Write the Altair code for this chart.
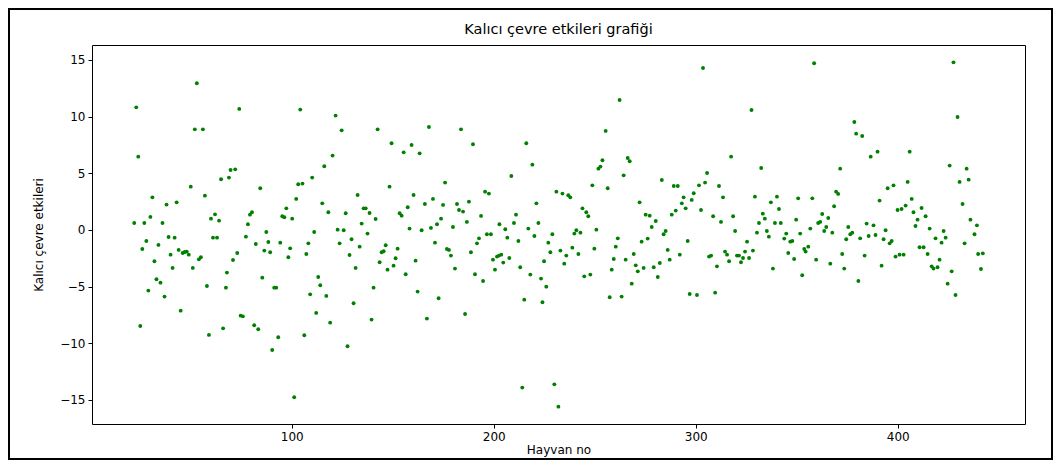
import altair as alt
import pandas as pd

# ---- values ----
hayvan_no = [
    22, 23, 24, 25, 26, 27, 28, 29, 30, 31, 32, 33, 34, 35, 36, 37, 38, 39, 40, 41, 42, 43, 44, 45,
    46, 47, 48, 49, 50, 51, 52, 53, 54, 55, 56, 57, 58, 59, 60, 61, 62, 63, 64, 65, 66,
    67.4, 67.9, 68.9, 69.7, 70.9, 72.0, 73.0, 74.0, 74.7, 75.8, 77.3, 78.3, 79.3, 80.3, 81.4, 82.2,
    83.4, 84.4, 85.4, 86.4, 87.4, 88.4, 89.3, 90.3, 91.3, 92.3, 93.3, 94.3, 95.3, 96.3, 97.3, 98.3,
    99.2, 100.2, 101.2, 102.2, 103.2, 104.2, 105.3, 106.2, 107.2, 108.2, 109.1, 110.1, 111.1, 112.1,
    113.1, 114.1, 115.1, 116.1, 117.1, 118.1, 119.0,
    120.2, 121.7, 122.7, 123.7, 124.7, 125.7, 126.7, 127.6, 128.6, 129.6, 130.6, 131.6, 132.6, 133.6,
    134.6, 135.6, 136.6, 137.5, 138.5, 139.5, 140.5, 141.5, 142.5, 143.5, 144.5, 145.5, 146.5, 147.4,
    148.4, 149.4, 150.4, 151.4, 152.4, 153.4, 154.4, 155.4, 156.4, 157.4, 158.3, 159.3, 160.3, 161.3,
    162.3, 163.3, 164.3, 165.9, 166.9, 167.9, 168.9, 169.9, 170.9,
    171.9, 172.7, 173.9, 174.9, 175.9, 176.8, 177.8, 178.8, 179.8, 180.8, 181.8, 182.8, 183.8, 184.8,
    185.8, 186.7, 187.7, 188.7, 189.7, 190.7, 191.7, 192.7, 193.7, 194.7, 195.7, 196.6, 197.6, 198.6,
    199.6, 200.6, 201.6, 202.6, 202.8, 203.7, 204.7, 205.7, 206.7, 207.7, 208.7, 210.0, 211.0, 212.2,
    213.1, 214.1, 215.1, 216.1, 217.1, 218.1, 219.1, 220.1, 221.1, 222.1,
    223.4, 224.1, 224.9, 226.0, 227.0, 228.0, 229.0, 230.0, 231.0, 232.0, 233.0, 234.0, 234.9, 235.9,
    236.9, 237.9, 238.9, 239.9, 240.9, 241.9, 242.9, 243.9, 244.8, 245.8, 246.8, 247.8, 248.8, 249.8,
    250.8, 251.8, 252.8, 253.8, 255.4, 256.4, 257.4, 258.4, 259.4, 260.4, 261.4, 262.3, 263.3, 264.3,
    265.3, 266.3, 267.3, 268.3, 269.3, 270.3, 271.3, 272.2, 273.2, 274.2,
    275.2, 276.2, 277.2, 278.2, 279.2, 280.2, 281.2, 282.2, 283.2, 284.1, 285.1, 286.1, 287.1, 288.1,
    289.1, 290.1, 291.1, 292.1, 293.1, 294.0, 295.0, 296.0, 297.0, 298.0, 299.0, 300.6, 301.6, 302.6,
    303.6, 304.6, 305.6, 306.6, 307.6, 308.6, 309.6, 310.5, 311.5, 312.5, 313.5, 314.5, 315.5, 316.5,
    317.5, 318.5, 319.5, 320.4, 321.4, 322.4, 323.4, 324.4, 325.4, 326.4,
    327.6, 328.3, 329.3, 330.3, 331.3, 332.4, 333.2, 334.2, 335.2, 336.2, 337.2, 338.2, 339.2, 340.2,
    341.2, 342.1, 343.8, 344.8, 345.8, 346.8, 347.8, 348.7, 349.7, 350.7, 351.7, 352.7, 353.7, 354.4,
    355.7, 356.7, 357.7, 358.6, 359.6, 360.6, 361.6, 362.6, 363.6, 364.6, 365.6, 366.6, 367.6, 368.5,
    369.5, 370.5, 371.5, 372.5, 373.5, 374.5, 375.5, 376.5, 377.5, 378.5, 379.4,
    380.5, 381.4, 382.4, 383.6, 384.6, 385.6, 386.6, 388.0, 389.0, 390.0, 391.0, 392.0, 393.0, 394.0,
    395.0, 396.0, 397.0, 397.9, 398.9, 399.9, 400.9, 401.9, 402.9, 403.9, 404.9, 405.9, 406.9, 407.8,
    408.8, 409.8, 410.8, 411.8, 412.8, 413.8, 414.8, 415.8, 416.8, 417.7, 418.7, 419.7, 420.7, 421.7,
    422.7, 423.7, 424.7, 425.7, 426.7, 427.6, 428.6, 429.6, 430.6, 432.1, 433.1, 434.1, 435.1, 436.0,
    438.0, 439.2, 439.8, 441.2, 442.1,
]

kalici_etki = [
    0.62, 10.82, 6.47, -8.47, -1.68, 0.62, -0.97, -5.35, 1.15, 2.88, -2.76, -4.35, -1.32, -4.65, 0.62,
    -5.88, 2.24, -0.62, -2.18, -3.35, -0.68, 2.44, -1.76, -7.12, -2.03, -1.94, -1.91, -2.18, 3.82, -3.35,
    8.88, 12.94, -2.59, -2.41, 8.88, 3.03, -4.94, -9.26, 1.0, -0.68, 1.38, -0.68, 0.82, 4.47, -8.68,
    -5.09, -3.76, 4.62, 5.29, -2.65, 5.35, -2.03, 10.68, -7.56, -7.62, -0.59, 0.5, 1.35, 1.56, -8.41,
    -1.24, -8.76, 3.68, -4.21, -1.82, -0.18, -1.06, -1.97, -10.59, -5.09, -5.09, -9.47, -1.12, 1.21,
    1.12, 1.91, -2.41, -1.62, 1.0, -14.76, 2.74, 4.03, 10.62, 4.09, -9.29, -2.12, -1.18, -5.68, 4.62,
    -0.18, -7.32, -4.15, -4.88, 2.35, 5.62, -5.82, 1.56, -8.18,
    6.56, 10.09, 0.03, -1.18, 8.79, -0.03, 1.47, -10.26, -2.21, -0.82, -6.47, -3.35, 3.09, -1.47, 0.56,
    1.91, 1.91, -0.32, 1.5, -7.91, -5.09, 0.97, 8.88, -2.85, -1.97, -1.88, -1.35, -3.5, 3.82, 7.65,
    -3.15, -2.5, -1.65, 1.47, 1.26, 6.85, -3.91, 2.0, 0.12, 7.5, 3.09, -2.71, -5.44, 6.76, -0.03, 2.29,
    -7.82, 9.09, 0.18, 2.74, -1.12,
    0.5, -6.03, 1.0, 2.21, 4.18, -1.68, -1.76, -2.26, 0.26, -3.41, 2.29, 1.76, 8.88, 1.62, -7.41, 0.71,
    2.5, -1.97, 7.56, -3.91, -1.18, -0.74, 1.24, -4.5, 3.38, -0.38, 3.21, -0.38, -2.62, -3.5, -2.35,
    -2.26, 0.5, -2.18, -2.88, 0.06, -0.68, -2.47, 4.76, 0.62, 1.35, -0.97, -3.29, -13.91, -6.15, 7.65,
    0.12, -3.94, 5.76, -0.53, 2.35, 0.62,
    -4.29, -6.38, -2.76, -5.0, -1.12, -1.97, -0.38, -13.62, 3.38, -15.59, -1.82, 3.21, -2.97, -2.26,
    3.06, 2.88, -1.56, -0.32, -0.03, -2.12, -0.24, 1.91, -4.09, 1.56, 1.21, -3.94, 3.94, -1.65, 0.03,
    5.41, 5.59, 6.15, 8.74, 3.68, -5.94, -3.5, -2.56, -1.47, -0.74, 11.47, -5.88, 4.82, -2.62, 6.35,
    6.06, -4.74, -2.12, -3.12, -3.65, 2.44, -1.03, -3.35,
    1.35, -0.76, 1.26, 0.26, -3.29, 0.79, -4.15, -2.91, 4.41, -0.38, -0.09, -1.76, -2.62, 1.35, 3.88,
    1.71, 3.88, -2.18, 2.35, 2.88, 1.91, -0.97, -5.65, 2.65, 3.24, -5.74, 3.94, 1.76, 14.29, 4.18,
    5.03, -2.35, -2.26, 1.21, -5.53, -3.21, 3.88, 0.71, 2.88, -1.91, -2.18, -2.76, 6.47, 1.21, -0.09,
    -2.26, -2.26, -2.85, -2.47, -1.91, -1.03, -2.47,
    10.59, -1.82, 2.94, -0.24, 0.62, 5.47, 1.44, 1.0, -0.09, -0.59, 2.44, -3.41, 0.62, 2.94, 1.85,
    0.62, -0.76, -0.32, -2.03, -1.03, -0.97, -2.56, 0.91, 2.79, -0.32, -4.0, -1.68, -1.91, -1.47, 0.12,
    2.79, 14.71, -2.62, 0.62, 0.71, 1.41, -0.09, 0.26, 1.06, -2.97, -0.24, 2.09, 3.38, 3.18, 5.41,
    -2.12, -3.41, -0.82, 0.26, -0.38, -0.24, 9.53, 8.5,
    -4.5, -0.74, 8.29, -2.26, 0.56, -0.53, 6.47, 0.41, -0.44, 6.91, 2.59, -3.15, -0.82, -0.03, 3.68,
    -1.18, -0.97, 3.94, -2.35, 1.76, -2.18, 1.85, -2.18, 2.15, 4.24, 6.91, 2.74, 1.56, 0.35, 0.91,
    -1.53, 1.94, -1.53, 1.21, -2.12, 0.12, -3.21, -3.41, -0.74, -3.29, -2.62, -1.12, -0.09, -0.68,
    -4.74, 5.68, -3.65, 14.79, -5.74, 9.97, 4.24, 2.29, -1.18, 5.41, 4.44, 0.91, -0.38, 0.41, -2.12,
    -3.44, -2.06,
]

baslik = "Kalıcı çevre etkileri grafiği"
x_baslik = "Hayvan no"
y_baslik = "Kalıcı çevre etkileri"
x_isaretleri = [100, 200, 300, 400]
y_isaretleri = [-15, -10, -5, 0, 5, 10, 15]

df = pd.DataFrame({"hayvan_no": hayvan_no, "etki": kalici_etki})

FONT = "DejaVu Sans"
W, H = 933, 379
PAD_L, PAD_T, PAD_R, PAD_B = 84, 37, 28, 36

axis_common = dict(
    grid=False,
    domain=False,
    ticks=True,
    tickColor="black",
    tickSize=4,
    tickWidth=1,
    labelColor="black",
    labelFont=FONT,
    labelFontSize=12,
    labelPadding=3,
    titleFont=FONT,
    titleFontSize=12,
    titleFontWeight="normal",
    titleColor="black",
)

points = alt.Chart(df).mark_circle(size=15, color="#008000", opacity=1).encode(
    x=alt.X(
        "hayvan_no:Q",
        scale=alt.Scale(domain=[1.1, 463.0], nice=False, zero=False),
        axis=alt.Axis(values=x_isaretleri, title=x_baslik, titlePadding=2, **axis_common),
    ),
    y=alt.Y(
        "etki:Q",
        scale=alt.Scale(domain=[-17.12, 16.32], nice=False, zero=False),
        axis=alt.Axis(values=y_isaretleri, title=y_baslik, titlePadding=14, **axis_common),
    ),
)

one_row = pd.DataFrame({"k": [0]})

frame = alt.Chart(one_row).mark_rect(
    fill="transparent", stroke="black", strokeWidth=2
).encode(
    x=alt.value(-PAD_L + 1),
    x2=alt.value(W + PAD_R - 1),
    y=alt.value(-PAD_T + 1),
    y2=alt.value(H + PAD_B - 1),
)

title_text = alt.Chart(one_row).mark_text(
    text=baslik, font=FONT, fontSize=14.5, color="black", align="center", baseline="middle"
).encode(
    x=alt.value(W / 2),
    y=alt.value(-15),
)

chart = (
    alt.layer(points, frame, title_text)
    .properties(
        width=W,
        height=H,
        autosize=alt.AutoSizeParams(type="none"),
        padding={"left": PAD_L, "top": PAD_T, "right": PAD_R, "bottom": PAD_B},
        background="white",
    )
    .configure_view(stroke="black", strokeWidth=1)
)

chart.save("out.html", embed_options={"renderer": "svg", "actions": False})
